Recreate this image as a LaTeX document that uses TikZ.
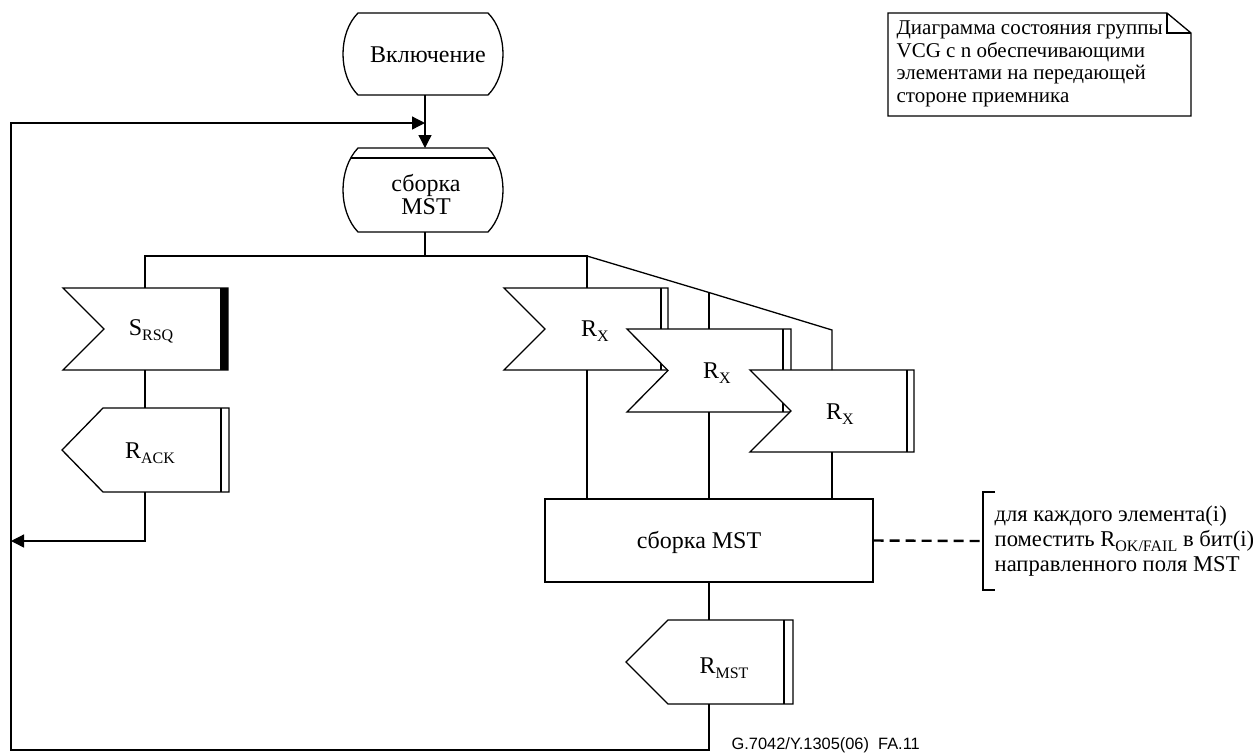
\documentclass[tikz,border=0pt]{standalone}
\usepackage{fontspec}
\setmainfont{Liberation Serif}
\newfontfamily\footfont{Liberation Sans}
\usetikzlibrary{arrows.meta}
\newcommand\sbs[1]{\raisebox{-0.45ex}{\fontsize{8}{9}\selectfont #1}}
\begin{document}
\begin{tikzpicture}[x=0.5pt,y=-0.5pt, line width=0.65pt,
  lbl/.style={font=\fontsize{12}{11.5}\selectfont, inner sep=0pt, align=center},
  shp/.style={draw, fill=white, line join=miter},
  arr/.style={-{Triangle[length=6.5pt,width=6.5pt]}},
  dashline/.style={line width=1.2pt, dash pattern=on 5pt off 3pt},
]
\useasboundingbox (0,0) rectangle (1253,752);

% ---- coordinates (connection points)
\coordinate (onB) at (425,95);
\coordinate (asmT) at (425,148);
\coordinate (asmB) at (425,232);
\coordinate (br0) at (425,256);
\coordinate (brL) at (145,256);
\coordinate (brR) at (587,256);
\coordinate (brM) at (709,292.5);
\coordinate (brE) at (832,330);
\coordinate (srsqT) at (145,288);
\coordinate (srsqB) at (145,370);
\coordinate (rackT) at (145,408);
\coordinate (rackB) at (145,492);
\coordinate (ackIn) at (11,541);
\coordinate (rx1T) at (587,288);
\coordinate (rx1B) at (587,370);
\coordinate (rx2T) at (709,329);
\coordinate (rx2B) at (709,412);
\coordinate (rx3T) at (832,370);
\coordinate (rx3B) at (832,452);
\coordinate (rmstT) at (709,620);
\coordinate (rmstB) at (709,704);
\coordinate (lp1) at (709,750);
\coordinate (lp2) at (11,750);
\coordinate (lp3) at (11,123);
\coordinate (loopIn) at (425,123);
\coordinate (brk) at (983,541);

% ---- start terminal
\draw[shp] (358,13) -- (488,13) .. controls (508,33) and (508,75) .. (488,95)
  -- (358,95) .. controls (338,75) and (338,33) .. (358,13) -- cycle;
\node[lbl] (on) at (428,55) {Включение};

% ---- state "сборка MST"
\draw[shp] (358,148) -- (488,148) .. controls (508,169) and (508,211) .. (488,232)
  -- (358,232) .. controls (338,211) and (338,169) .. (358,148) -- cycle;
\begin{scope}
  \clip (358,148) -- (488,148) .. controls (508,169) and (508,211) .. (488,232)
  -- (358,232) .. controls (338,211) and (338,169) .. (358,148) -- cycle;
  \draw (330,158) -- (520,158);
\end{scope}
\node[lbl] (asm) at (426,195) {сборка\\MST};

% ---- S_RSQ (input, thick bar)
\draw[shp] (63,288) -- (228,288) -- (228,370) -- (63,370) -- (104,329) -- cycle;
\fill (220,288) rectangle (228,370);
\node[lbl] (srsq) at (151,331) {S\sbs{RSQ}};

% ---- R_ACK (output)
\draw[shp] (62,450) -- (103,408) -- (229,408) -- (229,492) -- (103,492) -- cycle;
\draw (221,408) -- (221,492);
\node[lbl] (rack) at (150,453) {R\sbs{ACK}};

% ---- Rx inputs
\draw[shp] (504,288) -- (668,288) -- (668,370) -- (504,370) -- (545,329) -- cycle;
\draw (661,288) -- (661,370);
\node[lbl] (rx1) at (595,331) {R\sbs{X}};
\draw[shp] (627,329) -- (791,329) -- (791,412) -- (627,412) -- (668,370.5) -- cycle;
\draw (783,329) -- (783,412);
\node[lbl] (rx2) at (717,373) {R\sbs{X}};
\draw[shp] (750,370) -- (914,370) -- (914,452) -- (750,452) -- (791,411) -- cycle;
\draw (907,370) -- (907,452);
\node[lbl] (rx3) at (840,414) {R\sbs{X}};

% ---- task "сборка MST"
\node[draw, lbl, minimum width=164pt, minimum height=41.5pt] (asm2) at (709,540.5) {};
\node[lbl] (asm2t) at (699,542) {сборка MST};

% ---- R_MST (output)
\draw[shp] (626,662) -- (668,620) -- (793,620) -- (793,704) -- (668,704) -- cycle;
\draw (784,620) -- (784,704);
\node[lbl] (rmst) at (724,668) {R\sbs{MST}};

% ---- comment bracket
\draw (995,492) -- (983,492) -- (983,590) -- (995,590);
\node[lbl, anchor=west, align=left, font=\fontsize{11.3}{12.5}\selectfont] (cmt) at (994,541)
  {для каждого элемента(i)\\поместить R\sbs{OK/FAIL} в бит(i)\\направленного поля MST};

% ---- note
\draw (888,13) -- (1167,13) -- (1191,33) -- (1191,116) -- (888,116) -- cycle;
\draw (1167,13) -- (1167,33) -- (1191,33);
\node[lbl, anchor=west, align=left, font=\fontsize{10.5}{11.3}\selectfont] (note) at (896,64)
  {Диаграмма состояния группы\\VCG с n обеспечивающими\\элементами на передающей\\стороне приемника};

% ---- footer
\node[anchor=west, inner sep=0pt, font=\footfont\fontsize{8.2}{9}\selectfont] (foot) at (731,745)
  {G.7042/Y.1305(06)\ \ FA.11};

% ---- connectors
\draw[arr] (onB) -- (asmT);
\draw (asmB) -- (br0);
\draw (srsqT) -- (brL) -- (brR) -- (rx1T);
\draw (brR) -- (brM) -- (brE) -- (rx3T);
\draw (brM) -- (rx2T);
\draw (srsqB) -- (rackT);
\draw[arr] (rackB) |- (ackIn);
\draw (rx1B) -- (rx1B |- asm2.north);
\draw (rx2B) -- (rx2B |- asm2.north);
\draw (rx3B) -- (rx3B |- asm2.north);
\draw (asm2.south) -- (rmstT);
\draw[arr] (rmstB) -- (lp1) -- (lp2) -- (lp3) -- (loopIn);
\draw[dashline] (asm2.east) -- (brk);
\end{tikzpicture}
\end{document}
